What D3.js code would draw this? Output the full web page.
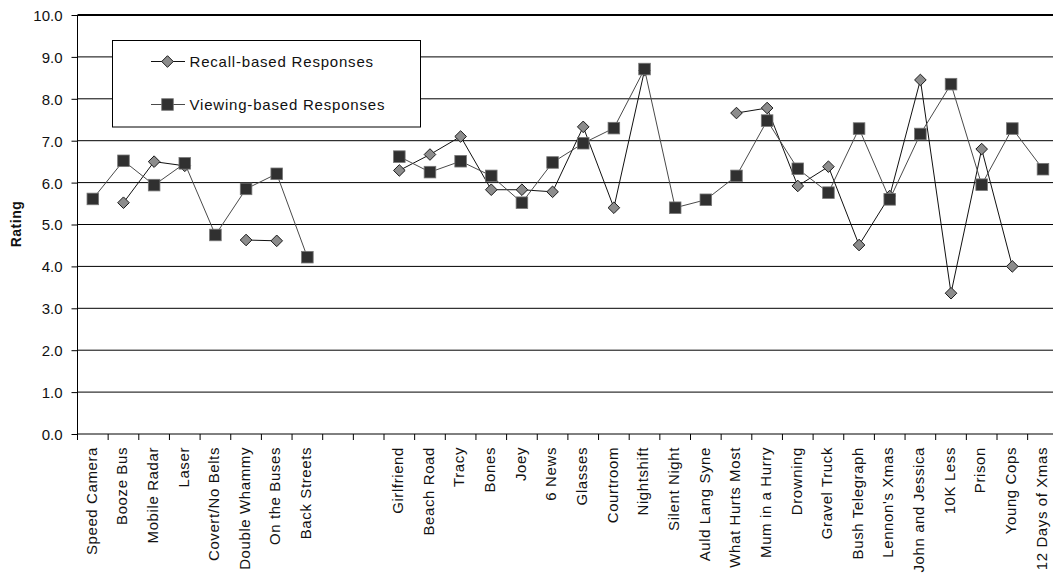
<!DOCTYPE html>
<html>
<head>
<meta charset="utf-8">
<script src="https://cdn.jsdelivr.net/npm/d3@7"></script>
<style>
  html, body { margin: 0; padding: 0; background: #fff; }
  svg { display: block; font-family: "Liberation Sans", Arial, sans-serif; }
</style>
</head>
<body>
<svg id="chart" width="1053" height="577"></svg>
<script>
// Advertisement titles (two blank slots separate the two groups)
const categories = [
  "Speed Camera", "Booze Bus", "Mobile Radar", "Laser", "Covert/No Belts",
  "Double Whammy", "On the Buses", "Back Streets", "", "",
  "Girlfriend", "Beach Road", "Tracy", "Bones", "Joey", "6 News", "Glasses",
  "Courtroom", "Nightshift", "Silent Night", "Auld Lang Syne", "What Hurts Most",
  "Mum in a Hurry", "Drowning", "Gravel Truck", "Bush Telegraph", "Lennon's Xmas",
  "John and Jessica", "10K Less", "Prison", "Young Cops", "12 Days of Xmas"
];

// Mean ratings; null where no rating was collected
const recallRatings = [
  null, 5.52, 6.50, 6.40, null, 4.63, 4.61, null, null, null,
  6.29, 6.67, 7.10, 5.83, 5.83, 5.78, 7.33, 5.40, 8.68, null, null, 7.66,
  7.78, 5.92, 6.38, 4.51, 5.68, 8.45, 3.36, 6.80, 4.00, null
];
const viewingRatings = [
  5.61, 6.52, 5.94, 6.46, 4.75, 5.85, 6.21, 4.22, null, null,
  6.62, 6.25, 6.51, 6.16, 5.52, 6.48, 6.94, 7.30, 8.71, 5.40, 5.59, 6.16,
  7.48, 6.33, 5.76, 7.29, 5.60, 7.16, 8.35, 5.95, 7.29, 6.32
];

const yTicks = [0, 1, 2, 3, 4, 5, 6, 7, 8, 9, 10];
const seriesNames = ["Recall-based Responses", "Viewing-based Responses"];

const svg = d3.select("#chart");
const plotLeft = 77.5, plotRight = 1058.3, plotTop = 15, plotBottom = 434;

const x = d3.scaleBand().domain(d3.range(categories.length)).range([plotLeft, plotRight]).padding(0);
const cx = i => x(i) + x.bandwidth() / 2;
const y = d3.scaleLinear().domain([0, 10]).range([plotBottom, plotTop]);

// Horizontal gridlines
svg.append("g")
  .selectAll("line")
  .data(yTicks.filter(t => t > 0))
  .join("line")
  .attr("x1", plotLeft).attr("x2", plotRight)
  .attr("y1", d => y(d)).attr("y2", d => y(d))
  .attr("stroke", "#000")
  .attr("stroke-width", d => d === 10 ? 2 : 1);

// Legend box (sits over the gridlines)
const legend = svg.append("g");
legend.append("rect")
  .attr("x", 112.5).attr("y", 40.5)
  .attr("width", 308).attr("height", 86.5)
  .attr("fill", "#fff").attr("stroke", "#000").attr("stroke-width", 1);

// Y axis
const yAxis = svg.append("g")
  .attr("transform", `translate(${plotLeft},0)`)
  .call(d3.axisLeft(y).tickValues(yTicks).tickFormat(d3.format(".1f")).tickSize(6).tickPadding(9));
yAxis.select(".domain").attr("stroke", "#000").attr("d", `M0,${plotBottom}V${plotTop}`);
yAxis.selectAll(".tick line").attr("stroke", "#000");
yAxis.selectAll(".tick text")
  .attr("font-size", 15).attr("fill", "#111")
  .attr("font-family", "Liberation Sans, Arial, sans-serif")
  .attr("dy", "0.36em");

// X axis line and boundary ticks
svg.append("line")
  .attr("x1", plotLeft).attr("x2", plotRight)
  .attr("y1", plotBottom).attr("y2", plotBottom)
  .attr("stroke", "#000");
svg.append("g")
  .selectAll("line")
  .data(d3.range(categories.length + 1))
  .join("line")
  .attr("x1", i => plotLeft + i * x.step()).attr("x2", i => plotLeft + i * x.step())
  .attr("y1", plotBottom).attr("y2", plotBottom + 6)
  .attr("stroke", "#000");

// Category labels, rotated
svg.append("g")
  .selectAll("text")
  .data(categories.map((c, i) => ({ c, i })).filter(d => d.c))
  .join("text")
  .attr("transform", d => `translate(${cx(d.i)},447) rotate(-90)`)
  .attr("text-anchor", "end")
  .attr("dy", "0.25em")
  .attr("font-size", 15)
  .attr("letter-spacing", 0.6)
  .attr("fill", "#111")
  .text(d => d.c);

// Axis title
svg.append("text")
  .attr("transform", "translate(21,224) rotate(-90)")
  .attr("text-anchor", "middle")
  .attr("font-size", 14)
  .attr("font-weight", "bold")
  .attr("letter-spacing", 0.5)
  .attr("fill", "#111")
  .text("Rating");

const line = d3.line()
  .defined(d => d.v !== null)
  .x(d => cx(d.i))
  .y(d => y(d.v));

const diamond = s => `M0,${-s}L${s},0L0,${s}L${-s},0Z`;

function drawSeries(values, lineColor, drawMarker) {
  const pts = values.map((v, i) => ({ v, i }));
  svg.append("path")
    .datum(pts)
    .attr("d", line)
    .attr("fill", "none")
    .attr("stroke", lineColor)
    .attr("stroke-width", 1);
  const g = svg.append("g")
    .selectAll("g")
    .data(pts.filter(d => d.v !== null))
    .join("g")
    .attr("transform", d => `translate(${cx(d.i)},${y(d.v)})`);
  drawMarker(g);
}

const recallMarker = g => g.append("path")
  .attr("d", diamond(5.8))
  .attr("fill", "#8c8c8c").attr("stroke", "#1a1a1a").attr("stroke-width", 1);
const viewingMarker = g => g.append("rect")
  .attr("x", -5.8).attr("y", -5.8).attr("width", 11.6).attr("height", 11.6)
  .attr("fill", "#303030").attr("stroke", "#777").attr("stroke-width", 0.8);

drawSeries(recallRatings, "#111", recallMarker);
drawSeries(viewingRatings, "#4a4a4a", viewingMarker);

// Legend entries
const entries = [
  { name: seriesNames[0], y: 61.5, color: "#111", marker: recallMarker },
  { name: seriesNames[1], y: 104.5, color: "#4a4a4a", marker: viewingMarker }
];
entries.forEach(e => {
  legend.append("line")
    .attr("x1", 151).attr("x2", 185)
    .attr("y1", e.y).attr("y2", e.y)
    .attr("stroke", e.color);
  const m = legend.append("g").attr("transform", `translate(167.5,${e.y})`);
  e.marker(m);
  legend.append("text")
    .attr("x", 189.5).attr("y", e.y)
    .attr("dy", "0.36em")
    .attr("font-size", 15)
    .attr("letter-spacing", 0.8)
    .attr("fill", "#111")
    .text(e.name);
});
</script>
</body>
</html>
